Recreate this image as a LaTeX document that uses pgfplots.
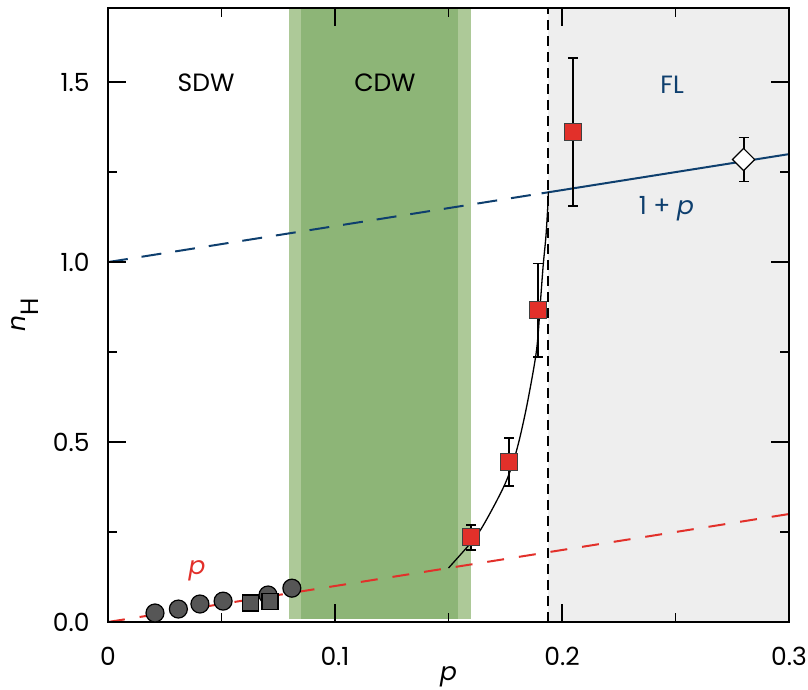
\documentclass[border=0pt]{standalone}
\usepackage{fontspec}
\setmainfont{Poppins}
\usepackage{pgfplots}
\pgfplotsset{compat=1.18}
\definecolor{redm}{HTML}{E2302A}
\definecolor{bluem}{HTML}{0E3F6E}
\definecolor{greyd}{HTML}{565656}
\definecolor{greenl}{HTML}{ADC998}
\definecolor{greend}{HTML}{8DB577}
\definecolor{greybg}{HTML}{EEEEEE}
\begin{document}
\begin{tikzpicture}[font=\fontsize{12.5}{15}\selectfont]
\begin{axis}[
 scale only axis, width=340.5pt, height=307pt,
 xmin=0, xmax=0.3, ymin=0, ymax=1.706,
 axis on top,
 xtick={0,0.1,0.2,0.3}, xticklabels={0,0.1,0.2,0.3},
 ytick={0,0.5,1,1.5}, yticklabels={0.0,0.5,1.0,1.5},
 minor x tick num=1, minor y tick num=1,
 tick align=inside, xtick pos=both, ytick pos=both,
 xticklabel pos=lower, yticklabel pos=left,
 major tick length=9pt, minor tick length=4.5pt,
 every tick/.style={black, line width=0.8pt},
 axis line style={line width=0.8pt},
 /pgf/number format/assume math mode=true,
 xticklabel style={anchor=base, yshift=-21.5pt, inner sep=0pt},
 yticklabel style={anchor=east, xshift=-9pt, inner sep=0pt},
 xlabel={\textit{p}},
 xlabel style={at={(axis description cs:0.5,-0.0945)}, anchor=base, inner sep=0pt},
 ylabel={\textit{n}\raisebox{-6.5pt}{H}},
 ylabel style={at={(axis description cs:-0.122,0.5)}, anchor=center},
]
% background regions
\addplot[fill=greybg, draw=none] coordinates {(0.194,0) (0.3,0) (0.3,1.706) (0.194,1.706)};
\addplot[fill=greenl, draw=none] coordinates {(0.0797,0.008) (0.160,0.008) (0.160,1.706) (0.0797,1.706)};
\addplot[fill=greend, draw=none] coordinates {(0.085,0.008) (0.154,0.008) (0.154,1.706) (0.085,1.706)};
% vertical dashed line
\addplot[black, line width=1pt, dash pattern=on 5pt off 3pt] coordinates {(0.194,0) (0.194,1.706)};
% n = p
\addplot[redm, line width=1pt, dash pattern=on 8.5pt off 7.5pt] coordinates {(0,0) (0.3,0.3)};
% n = 1+p
\addplot[bluem, line width=1pt, dash pattern=on 10pt off 7pt] coordinates {(0,1) (0.191,1.191)};
\addplot[bluem, line width=1pt] coordinates {(0.191,1.191) (0.3,1.3)};
% black curve
\addplot[black, line width=0.65pt, smooth, tension=0.5] coordinates {
 (0.1500,0.150) (0.1586,0.211) (0.1640,0.255) (0.1700,0.322) (0.1750,0.385)
 (0.1784,0.442) (0.1815,0.514) (0.1850,0.617) (0.1888,0.756) (0.1905,0.89)
 (0.1917,0.99) (0.1929,1.07) (0.1937,1.15) (0.1940,1.195)};
% grey circles
\addplot[only marks, mark=*, mark size=4.5pt, mark options={fill=greyd, draw=black, line width=0.6pt}] coordinates {
 (0.0207,0.025) (0.031,0.036) (0.0405,0.050) (0.0507,0.058) (0.0705,0.075) (0.081,0.094)};
% grey squares
\addplot[only marks, mark=square*, mark size=4pt, mark options={fill=greyd, draw=black, line width=0.6pt}] coordinates {
 (0.0626,0.053) (0.0714,0.058)};
% red squares with error bars
\addplot[only marks, mark=square*, mark size=4.25pt,
 mark options={fill=redm, draw=black!75, line width=0.5pt},
 error bars/.cd, y dir=both, y explicit,
 error bar style={line width=0.9pt, black},
 error mark options={rotate=90, mark size=2.5pt, line width=0.9pt, black}] coordinates {
 (0.160,0.235) +- (0,0.035)
 (0.1767,0.444) +- (0,0.067)
 (0.1894,0.866) +- (0,0.13)
 (0.2048,1.361) +- (0,0.205)};
% white diamond
\addplot[only marks, mark=square*, mark size=3.9pt,
 mark options={rotate=45, fill=white, draw=black, line width=0.6pt},
 error bars/.cd, y dir=both, y explicit,
 error bar style={line width=0.9pt, black},
 error mark options={rotate=90, mark size=2.5pt, line width=0.9pt, black}] coordinates {
 (0.280,1.285) +- (0,0.061)};
% labels
\node at (axis cs:0.0432,1.497) {SDW};
\node at (axis cs:0.122,1.497) {CDW};
\node[text=bluem] at (axis cs:0.2485,1.492) {FL};
\node[text=bluem, anchor=base] at (axis cs:0.246,1.133) {1 + \textit{p}};
\node[text=redm] at (axis cs:0.0392,0.142) {\textit{p}};
\end{axis}
\path (current axis.south west) +(-54pt,-34pt);
\path (current axis.north east) +(9.5pt,4pt);
\end{tikzpicture}
\end{document}
